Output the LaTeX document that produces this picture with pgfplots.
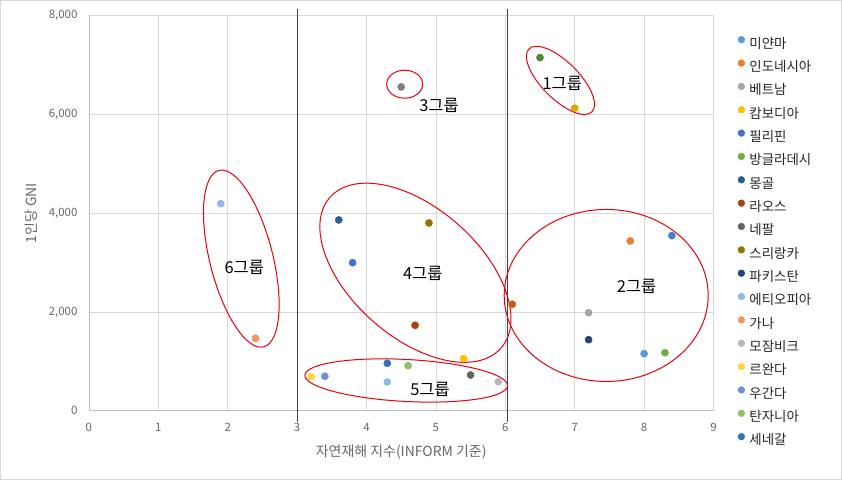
\documentclass[border=0pt]{standalone}
\usepackage{fontspec}
\setmainfont{Noto Sans CJK KR}
\usepackage{pgfplots}
\pgfplotsset{compat=1.18}
\usetikzlibrary{shapes.geometric}
\definecolor{cA}{HTML}{5B9BD5}
\definecolor{cB}{HTML}{ED7D31}
\definecolor{cC}{HTML}{A5A5A5}
\definecolor{cD}{HTML}{FFC000}
\definecolor{cE}{HTML}{4472C4}
\definecolor{cF}{HTML}{70AD47}
\definecolor{cG}{HTML}{255E91}
\definecolor{cH}{HTML}{9E480E}
\definecolor{cI}{HTML}{636363}
\definecolor{cJ}{HTML}{997300}
\definecolor{cK}{HTML}{264478}
\definecolor{cL}{HTML}{8DBBE6}
\definecolor{cM}{HTML}{F1975A}
\definecolor{cN}{HTML}{B7B7B7}
\definecolor{cO}{HTML}{FFD43B}
\definecolor{cP}{HTML}{6F8FD6}
\definecolor{cQ}{HTML}{8CC168}
\definecolor{cR}{HTML}{2E75B6}
\definecolor{xA}{HTML}{4E8A2E}
\definecolor{xB}{HTML}{E0A500}
\definecolor{xC}{HTML}{7F7F7F}
\definecolor{xD}{HTML}{3F7FCC}
\definecolor{xE}{HTML}{C55A11}
\definecolor{gridc}{HTML}{D9D9D9}
\definecolor{axisc}{HTML}{BFBFBF}
\definecolor{tickc}{HTML}{666666}
\definecolor{framec}{HTML}{D9D9D9}
\definecolor{vline}{HTML}{404040}
\definecolor{ellc}{HTML}{E8000B}
\definecolor{legc}{HTML}{262626}
\begin{document}
\begin{tikzpicture}
\useasboundingbox (0,0) rectangle (842bp,480bp);
\fill[white] (0,0) rectangle (842bp,480bp);
\draw[framec, line width=1bp] (0.5bp,0.5bp) rectangle (841.5bp,479.5bp);
\begin{axis}[
  at={(88.9bp,69.3bp)}, anchor=south west,
  scale only axis, width=624.6bp, height=395bp,
  xmin=0, xmax=9, ymin=0, ymax=8000,
  xtick={0,1,...,9}, ytick={0,2000,4000,6000,8000},
  scaled y ticks=false,
  clip=false,
  grid=major, major grid style={draw=gridc, line width=0.8bp},
  axis line style={draw=gridc, line width=0.8bp},
  major tick length=0pt,
  /pgf/number format/assume math mode=true,
  /pgf/number format/1000 sep={,},
  xticklabel style={font=\fontsize{11.5}{13}\selectfont, text=tickc, yshift=-9bp},
  yticklabel style={font=\fontsize{11.5}{13}\selectfont, text=tickc, xshift=-8bp},
  legend image code/.code={\draw[mark size=3.4bp] plot coordinates {(0bp,4.6bp)};},
  legend cell align=left,
  legend style={at={(1.0389,0.9484)}, anchor=north west, draw=none, fill=none,
    inner sep=0pt, font=\fontsize{13.5}{15}\selectfont, text=legc, row sep=8.1bp, column sep=4.6bp,
    nodes={inner sep=0pt, text height=11bp, text depth=3.5bp}},
  every axis plot/.append style={only marks, mark=*, mark size=3.6bp},
]
\draw[axisc, line width=0.8bp] (rel axis cs:0,0) -- (rel axis cs:1,0);
\draw[axisc, line width=0.8bp] (rel axis cs:0,0) -- (rel axis cs:0,1);
\draw[vline, line width=1bp] (axis cs:3,8132) -- (axis cs:3,-229);
\draw[vline, line width=1bp] (axis cs:6.03,8132) -- (axis cs:6.03,-229);

\addplot[color=cA] coordinates {(8.0,1155)};
\addlegendentry{미얀마}
\addplot[color=cB] coordinates {(7.8,3438)};
\addlegendentry{인도네시아}
\addplot[color=cC] coordinates {(7.2,1985)};
\addlegendentry{베트남}
\addplot[color=cD] coordinates {(5.4,1054)};
\addlegendentry{캄보디아}
\addplot[color=cE] coordinates {(3.8,2998)};
\addlegendentry{필리핀}
\addplot[color=cF] coordinates {(8.3,1175)};
\addlegendentry{방글라데시}
\addplot[color=cG] coordinates {(3.6,3864)};
\addlegendentry{몽골}
\addplot[color=cH] coordinates {(4.7,1730)};
\addlegendentry{라오스}
\addplot[color=cI] coordinates {(5.5,723)};
\addlegendentry{네팔}
\addplot[color=cJ] coordinates {(4.9,3803)};
\addlegendentry{스리랑카}
\addplot[color=cK] coordinates {(7.2,1438)};
\addlegendentry{파키스탄}
\addplot[color=cL] coordinates {(1.9,4194)};
\addlegendentry{에티오피아}
\addplot[color=cM] coordinates {(2.4,1467)};
\addlegendentry{가나}
\addplot[color=cN] coordinates {(5.9,588)};
\addlegendentry{모잠비크}
\addplot[color=cO] coordinates {(3.2,689)};
\addlegendentry{르완다}
\addplot[color=cP] coordinates {(3.4,697)};
\addlegendentry{우간다}
\addplot[color=cQ] coordinates {(4.6,912)};
\addlegendentry{탄자니아}
\addplot[color=cR] coordinates {(4.3,960)};
\addlegendentry{세네갈}

\addplot[color=xA, forget plot] coordinates {(6.5,7152)};
\addplot[color=xB, forget plot] coordinates {(7.0,6127)};
\addplot[color=xC, forget plot] coordinates {(4.5,6558)};
\addplot[color=xD, forget plot] coordinates {(8.4,3546)};
\addplot[color=xE, forget plot] coordinates {(6.1,2156)};
\addplot[color=cL, forget plot] coordinates {(4.3,581)};

\node[draw=ellc, line width=1bp, ellipse, inner sep=0pt, minimum width=89bp, minimum height=37bp, rotate=-45] at (axis cs:6.795,6690) {};
\node[draw=ellc, line width=1bp, ellipse, inner sep=0pt, minimum width=36bp, minimum height=28bp] at (axis cs:4.55,6613) {};
\node[draw=ellc, line width=1bp, ellipse, inner sep=0pt, minimum width=182bp, minimum height=63bp, rotate=-75.8] at (axis cs:2.196,3080) {};
\node[draw=ellc, line width=1bp, ellipse, inner sep=0pt, minimum width=228bp, minimum height=129bp, rotate=-41.4] at (axis cs:4.705,2794) {};
\node[draw=ellc, line width=1bp, ellipse, inner sep=0pt, minimum width=203bp, minimum height=42bp, rotate=-3] at (axis cs:4.573,612) {};
\node[draw=ellc, line width=1bp, ellipse, inner sep=0pt, minimum width=204bp, minimum height=172bp] at (axis cs:7.454,2334) {};

\node[font=\fontsize{16.5}{18}\selectfont] at (axis cs:6.821,6633) {1그룹};
\node[font=\fontsize{16.5}{18}\selectfont] at (axis cs:5.045,6179) {3그룹};
\node[font=\fontsize{16.5}{18}\selectfont] at (axis cs:2.239,2905) {6그룹};
\node[font=\fontsize{16.5}{18}\selectfont] at (axis cs:4.81,2784) {4그룹};
\node[font=\fontsize{16.5}{18}\selectfont] at (axis cs:4.915,434) {5그룹};
\node[font=\fontsize{16.5}{18}\selectfont] at (axis cs:7.893,2526) {2그룹};
\end{axis}
\node[rotate=90, text=tickc, font=\fontsize{14}{16}\selectfont] at (31.7bp,266.7bp) {1인당 GNI};
\node[text=tickc, font=\fontsize{14}{16}\selectfont] at (401.2bp,28.3bp) {자연재해 지수(INFORM 기준)};
\end{tikzpicture}
\end{document}
